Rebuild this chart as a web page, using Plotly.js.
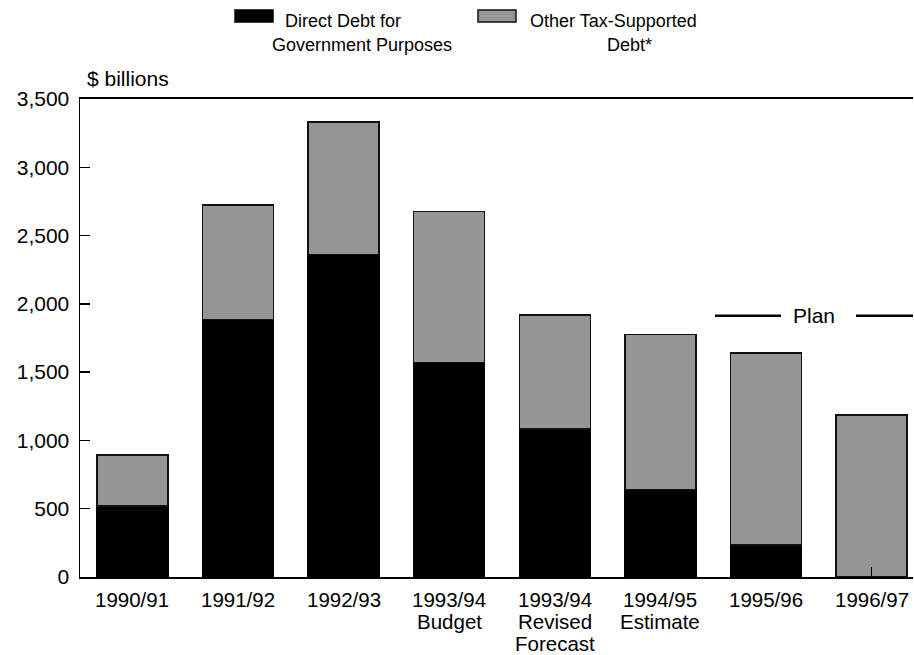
<!DOCTYPE html>
<html>
<head>
<meta charset="utf-8">
<script src="https://cdn.plot.ly/plotly-3.0.1.min.js"></script>
<style>
  html, body { margin: 0; padding: 0; background: #fff; }
  #chart { width: 914px; height: 655px; }
</style>
</head>
<body>
<div id="chart"></div>
<script>
// Tax-supported debt by fiscal year, $ billions
const categories = [
  '1990/91', '1991/92', '1992/93', '1993/94 Budget',
  '1993/94 Revised Forecast', '1994/95 Estimate', '1995/96', '1996/97'
];
const labelLines = [
  ['1990/91'], ['1991/92'], ['1992/93'], ['1993/94', 'Budget'],
  ['1993/94', 'Revised', 'Forecast'], ['1994/95', 'Estimate'], ['1995/96'], ['1996/97']
];
const directDebt = [520, 1885, 2360, 1570, 1085, 640, 235, 0];
const otherDebt  = [375, 840, 970, 1105, 835, 1135, 1405, 1185];
const yTicks = [0, 500, 1000, 1500, 2000, 2500, 3000, 3500];

const seriesNames = {
  direct: ['Direct Debt for', 'Government Purposes'],
  other: ['Other Tax-Supported', 'Debt*']
};

const FONT = '"Liberation Sans", Arial, Helvetica, sans-serif';
const GREY = '#969696';

// no outline on empty segments
const outlineFor = vals => vals.map(v => (v > 0 ? 1.5 : 0));

const traces = [
  {
    type: 'bar', name: seriesNames.direct.join(' '),
    x: categories, y: directDebt, width: 0.6725,
    marker: { color: '#000', line: { color: '#000', width: outlineFor(directDebt) } },
    hoverinfo: 'skip'
  },
  {
    type: 'bar', name: seriesNames.other.join(' '),
    x: categories, y: otherDebt, width: 0.6725,
    marker: { color: GREY, line: { color: '#111', width: outlineFor(otherDebt) } },
    hoverinfo: 'skip'
  }
];

const annotations = [];

// category labels, one line at a time for tight line spacing
labelLines.forEach((lines, i) => {
  lines.forEach((txt, j) => {
    annotations.push({
      text: txt, x: categories[i], xref: 'x', y: 0, yref: 'paper',
      xanchor: 'center', yanchor: 'middle', yshift: -22 - 22.3 * j,
      showarrow: false, font: { family: FONT, size: 20.5, color: '#000' }
    });
  });
});

// unit label
annotations.push({
  text: '$ billions', xref: 'paper', x: 0.0062, xanchor: 'left',
  yref: 'paper', y: 1, yanchor: 'middle', yshift: 21,
  showarrow: false, font: { family: FONT, size: 21, color: '#000' }
});

// "Plan" bracket label
annotations.push({
  text: 'Plan', xref: 'paper', x: 0.8817, xanchor: 'center',
  yref: 'paper', y: 0.5465, yanchor: 'middle',
  showarrow: false, font: { family: FONT, size: 21, color: '#000' }
});

// legend text
const legendText = [
  { t: seriesNames.direct[0], x: 0.3157, y: 1.1630 },
  { t: seriesNames.direct[1], x: 0.3385, y: 1.1135 },
  { t: seriesNames.other[0], x: 0.6399, y: 1.1630 },
  { t: seriesNames.other[1], x: 0.6591, y: 1.1135 }
];
legendText.forEach(l => annotations.push({
  text: l.t, xref: 'paper', x: l.x, xanchor: 'center',
  yref: 'paper', y: l.y, yanchor: 'middle',
  showarrow: false, font: { family: FONT, size: 18, color: '#000' }
}));

const shapes = [
  // legend swatches
  { type: 'rect', xref: 'paper', yref: 'paper', x0: 0.1861, x1: 0.2317, y0: 1.1609, y1: 1.1860,
    fillcolor: '#000', line: { color: '#000', width: 1.5 } },
  { type: 'rect', xref: 'paper', yref: 'paper', x0: 0.4778, x1: 0.5234, y0: 1.1609, y1: 1.1860,
    fillcolor: GREY, line: { color: '#111', width: 1.5 } },
  // Plan bracket lines
  { type: 'line', xref: 'paper', yref: 'paper', x0: 0.7623, x1: 0.8415, y0: 0.5465, y1: 0.5465,
    line: { color: '#000', width: 2.5 } },
  { type: 'line', xref: 'paper', yref: 'paper', x0: 0.9316, x1: 1.0, y0: 0.5465, y1: 0.5465,
    line: { color: '#000', width: 2.5 } }
];

const layout = {
  width: 914, height: 655,
  margin: { l: 80, r: 1, t: 99, b: 78, pad: 0 },
  paper_bgcolor: '#fff', plot_bgcolor: '#fff',
  barmode: 'stack', showlegend: false,
  font: { family: FONT, size: 21, color: '#000' },
  xaxis: {
    type: 'category', range: [-0.497, 7.393],
    showline: true, mirror: true, linecolor: '#000', linewidth: 2,
    ticks: 'inside', ticklen: 10, tickwidth: 1.5, tickcolor: '#000',
    showticklabels: false, showgrid: false, zeroline: false, fixedrange: true
  },
  yaxis: {
    range: [0, 3500], tickvals: yTicks, tickformat: ',d',
    showline: true, linecolor: '#000', linewidth: 1.5,
    ticks: 'inside', ticklen: 10, tickwidth: 1.5, tickcolor: '#000',
    ticklabelstandoff: 5,
    tickfont: { family: FONT, size: 21, color: '#000' },
    showgrid: false, zeroline: false, fixedrange: true
  },
  annotations: annotations,
  shapes: shapes
};

Plotly.newPlot('chart', traces, layout, { displayModeBar: false, staticPlot: true });
</script>
</body>
</html>
